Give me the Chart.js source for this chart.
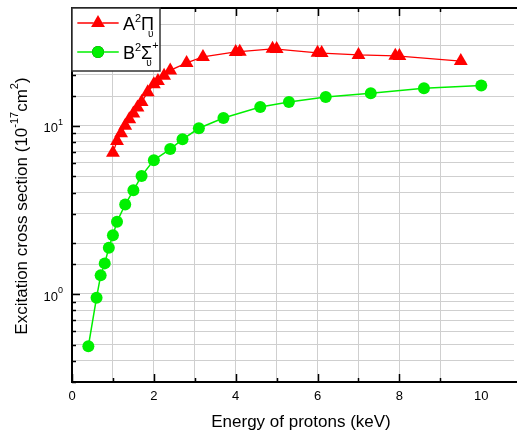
<!DOCTYPE html>
<html>
<head>
<meta charset="utf-8">
<script src="https://cdn.jsdelivr.net/npm/chart.js@4.4.1/dist/chart.umd.min.js"></script>
<style>
  html, body { margin: 0; padding: 0; background: #fff; }
  #wrap { width: 522px; height: 435px; }
</style>
</head>
<body>
<div id="wrap"><canvas id="xsChart" width="522" height="435"></canvas></div>
<script>
// A2Pi_u band: proton energy (keV) and cross section (1e-17 cm2)
const energyA = [1.0, 1.1, 1.2, 1.3, 1.4, 1.5, 1.6, 1.7, 1.85, 2.0, 2.1, 2.25, 2.4, 2.8, 3.2, 4.0, 4.1, 4.9, 5.0, 6.0, 6.1, 7.0, 7.9, 8.0, 9.5];
const sigmaA  = [6.9, 8.1, 9.0, 10.0, 10.9, 11.8, 12.8, 13.8, 15.8, 17.6, 18.4, 19.8, 21.3, 23.6, 25.6, 27.4, 27.5, 28.6, 28.5, 27.1, 27.0, 26.3, 26.0, 25.9, 24.2];

// B2Sigma+_u band
const energyB = [0.4, 0.6, 0.7, 0.8, 0.9, 1.0, 1.1, 1.3, 1.5, 1.7, 2.0, 2.4, 2.7, 3.1, 3.7, 4.6, 5.3, 6.2, 7.3, 8.6, 10.0];
const sigmaB  = [0.49, 0.95, 1.29, 1.52, 1.88, 2.23, 2.69, 3.40, 4.13, 5.03, 6.24, 7.26, 8.29, 9.65, 11.1, 12.9, 13.8, 14.8, 15.6, 16.7, 17.3];

const xLabelValues = [0, 2, 4, 6, 8, 10];
const yLabelExponents = [0, 1];

const FONT = "'Liberation Sans', Arial, sans-serif";
const RED = '#ff0000';
const GREEN = '#00f000';

function pairs(xs, ys) {
  return xs.map((x, i) => ({ x: x, y: ys[i] }));
}

// draws text pieces one after another; each piece is [text, size, raise]
function drawPieces(ctx, pieces, x, y) {
  let cx = x;
  pieces.forEach(p => {
    ctx.font = p[1] + 'px ' + FONT;
    ctx.fillText(p[0], cx, y - (p[2] || 0));
    cx += ctx.measureText(p[0]).width;
  });
  return cx;
}

function piecesWidth(ctx, pieces) {
  let w = 0;
  pieces.forEach(p => {
    ctx.font = p[1] + 'px ' + FONT;
    w += ctx.measureText(p[0]).width;
  });
  return w;
}

// frame with inward ticks, tick labels, axis titles and the legend box
const framePlugin = {
  id: 'frame',
  afterDraw(chart) {
    const ctx = chart.ctx;
    const a = chart.chartArea;
    const xs = chart.scales.x;
    const ys = chart.scales.y;
    ctx.save();

    ctx.strokeStyle = '#000';
    ctx.lineWidth = 1.5;
    ctx.beginPath();
    xs.ticks.forEach(t => {
      const px = Math.round(xs.getPixelForValue(t.value)) + 0.5;
      const len = t.value % 2 === 0 ? 8 : 4;
      ctx.moveTo(px, a.bottom); ctx.lineTo(px, a.bottom - len);
      ctx.moveTo(px, a.top); ctx.lineTo(px, a.top + len);
    });
    ys.ticks.forEach(t => {
      const py = Math.round(ys.getPixelForValue(t.value)) + 0.5;
      const major = yLabelExponents.some(e => Math.abs(Math.pow(10, e) - t.value) < 1e-9);
      ctx.moveTo(a.left, py); ctx.lineTo(a.left + (major ? 8 : 4), py);
    });
    ctx.stroke();

    ctx.lineWidth = 2;
    ctx.lineCap = 'square';
    ctx.beginPath();
    ctx.moveTo(a.right + 2, a.top);
    ctx.lineTo(a.left, a.top);
    ctx.lineTo(a.left, a.bottom);
    ctx.lineTo(a.right + 2, a.bottom);
    ctx.stroke();

    // tick labels
    ctx.fillStyle = '#000';
    ctx.font = '13px ' + FONT;
    ctx.textAlign = 'center';
    ctx.textBaseline = 'middle';
    xLabelValues.forEach(v => {
      ctx.fillText(String(v), xs.getPixelForValue(v), a.bottom + 14);
    });
    ctx.textAlign = 'left';
    yLabelExponents.forEach(e => {
      const py = ys.getPixelForValue(Math.pow(10, e));
      const pieces = [['10', 13, 0], [String(e), 9, 6]];
      const w = piecesWidth(ctx, pieces);
      drawPieces(ctx, pieces, a.left - 9 - w, py + 3);
    });

    // axis titles
    ctx.textAlign = 'center';
    ctx.font = '17px ' + FONT;
    ctx.fillText('Energy of protons (keV)', 301, 422);

    const yTitle = [['Excitation cross section (10', 17, 0], ['-17', 11, 7], ['cm', 17, 0], ['2', 11, 7], [')', 17, 0]];
    ctx.save();
    ctx.translate(22, 206);
    ctx.rotate(-Math.PI / 2);
    ctx.textAlign = 'left';
    const tw = piecesWidth(ctx, yTitle);
    drawPieces(ctx, yTitle, -tw / 2, 0);
    ctx.restore();

    // legend
    const bx = a.left, by = a.top, bw = 88, bh = 63;
    ctx.fillStyle = '#fff';
    ctx.fillRect(bx, by, bw, bh);
    ctx.strokeStyle = '#333';
    ctx.lineWidth = 1.5;
    ctx.strokeRect(bx, by, bw, bh);

    const rows = [
      { ds: chart.data.datasets[0], y: 23, main: [['A', 18, 0], ['2', 11, 8], ['Π', 18, 0]], sup: null },
      { ds: chart.data.datasets[1], y: 52, main: [['B', 18, 0], ['2', 11, 8], ['Σ', 18, 0]], sup: '+' }
    ];
    rows.forEach(r => {
      ctx.strokeStyle = r.ds.borderColor;
      ctx.lineWidth = r.ds.borderWidth;
      ctx.beginPath();
      ctx.moveTo(bx + 6, r.y); ctx.lineTo(bx + 46, r.y);
      ctx.stroke();
      Chart.helpers.drawPoint(ctx, {
        pointStyle: r.ds.pointStyle,
        radius: r.ds.pointRadius,
        rotation: 0,
        borderWidth: 0
      }, bx + 26, r.y);
      ctx.fillStyle = r.ds.pointBackgroundColor;
      ctx.fill();

      ctx.fillStyle = '#000';
      ctx.textAlign = 'left';
      ctx.textBaseline = 'alphabetic';
      const end = drawPieces(ctx, r.main, bx + 51, r.y + 7);
      if (r.sup) {
        ctx.font = '11px ' + FONT;
        ctx.fillText(r.sup, end, r.y - 3);
      }
      ctx.font = '10px ' + FONT;
      ctx.fillText('υ', end - 6, r.y + 14);
    });

    ctx.restore();
  }
};

new Chart(document.getElementById('xsChart'), {
  type: 'scatter',
  data: {
    datasets: [
      {
        label: 'A2Pi_u',
        data: pairs(energyA, sigmaA),
        showLine: true,
        borderColor: RED,
        borderWidth: 1.3,
        pointStyle: 'triangle',
        pointRadius: 8,
        pointBorderWidth: 0,
        pointBackgroundColor: RED,
        pointHoverRadius: 8
      },
      {
        label: 'B2Sigma_u',
        data: pairs(energyB, sigmaB),
        showLine: true,
        borderColor: GREEN,
        borderWidth: 1.5,
        pointStyle: 'circle',
        pointRadius: 6,
        pointBorderWidth: 0,
        pointBackgroundColor: GREEN,
        pointHoverRadius: 6
      }
    ]
  },
  options: {
    responsive: false,
    animation: false,
    layout: { padding: { left: 72, top: 8, right: 0, bottom: 53 } },
    plugins: { legend: { display: false }, tooltip: { enabled: false } },
    scales: {
      x: {
        type: 'linear',
        min: 0,
        max: 10.8,
        afterBuildTicks: scale => {
          scale.ticks = scale.ticks.filter(t => Number.isInteger(t.value));
        },
        ticks: { display: false, stepSize: 1 },
        grid: { color: '#cfcfcf', lineWidth: 1, drawTicks: false },
        border: { display: false }
      },
      y: {
        type: 'logarithmic',
        min: 0.3,
        max: 50,
        ticks: { display: false },
        grid: { color: '#cfcfcf', lineWidth: 1, drawTicks: false },
        border: { display: false }
      }
    }
  },
  plugins: [framePlugin]
});
</script>
</body>
</html>
